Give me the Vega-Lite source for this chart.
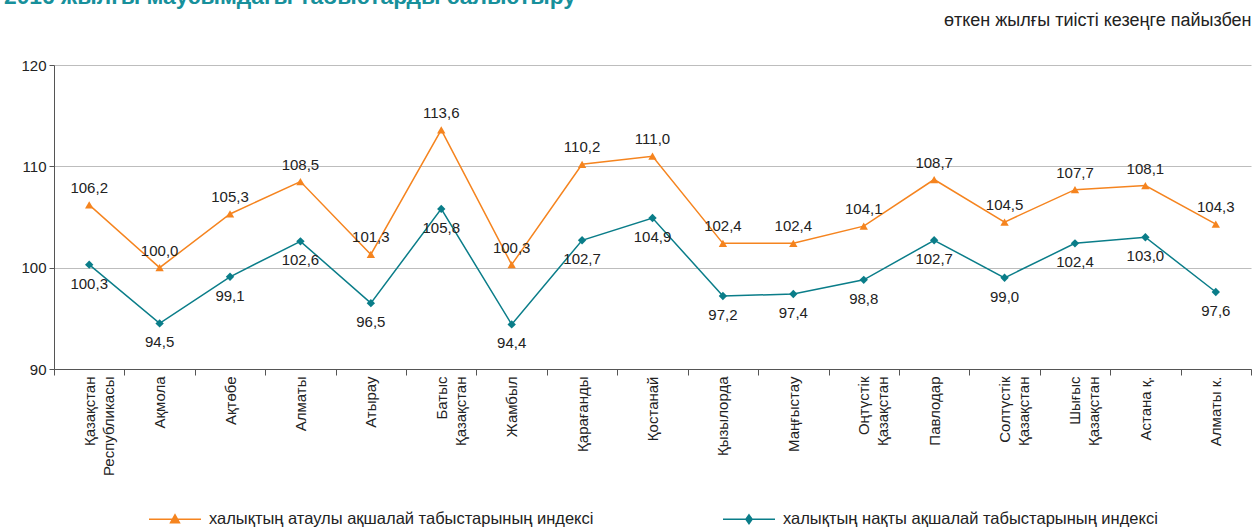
{
  "$schema": "https://vega.github.io/schema/vega-lite/v6.json",
  "autosize": "none",
  "width": 1197,
  "height": 304,
  "padding": {"left": 54, "top": 65, "right": 7, "bottom": 160},
  "title": {
    "text": "2016 жылғы маусымдағы табыстарды салыстыру",
    "anchor": "start",
    "frame": "bounds",
    "fontSize": 22.8,
    "fontWeight": "bold",
    "color": "#17909b",
    "dx": -17,
    "dy": 2
  },
  "config": {
    "font": "Liberation Sans",
    "view": {"stroke": null},
    "locale": {"number": {"decimal": ",", "thousands": " ", "grouping": [3], "currency": ["", ""]}}
  },
  "data": {
    "values": [
      {"region": "Қазақстан Республикасы", "series": "халықтың атаулы ақшалай табыстарының индексі", "value": 106.2},
      {"region": "Ақмола", "series": "халықтың атаулы ақшалай табыстарының индексі", "value": 100.0},
      {"region": "Ақтөбе", "series": "халықтың атаулы ақшалай табыстарының индексі", "value": 105.3},
      {"region": "Алматы", "series": "халықтың атаулы ақшалай табыстарының индексі", "value": 108.5},
      {"region": "Атырау", "series": "халықтың атаулы ақшалай табыстарының индексі", "value": 101.3},
      {"region": "Батыс Қазақстан", "series": "халықтың атаулы ақшалай табыстарының индексі", "value": 113.6},
      {"region": "Жамбыл", "series": "халықтың атаулы ақшалай табыстарының индексі", "value": 100.3},
      {"region": "Қарағанды", "series": "халықтың атаулы ақшалай табыстарының индексі", "value": 110.2},
      {"region": "Қостанай", "series": "халықтың атаулы ақшалай табыстарының индексі", "value": 111.0},
      {"region": "Қызылорда", "series": "халықтың атаулы ақшалай табыстарының индексі", "value": 102.4},
      {"region": "Маңғыстау", "series": "халықтың атаулы ақшалай табыстарының индексі", "value": 102.4},
      {"region": "Оңтүстік Қазақстан", "series": "халықтың атаулы ақшалай табыстарының индексі", "value": 104.1},
      {"region": "Павлодар", "series": "халықтың атаулы ақшалай табыстарының индексі", "value": 108.7},
      {"region": "Солтүстік Қазақстан", "series": "халықтың атаулы ақшалай табыстарының индексі", "value": 104.5},
      {"region": "Шығыс Қазақстан", "series": "халықтың атаулы ақшалай табыстарының индексі", "value": 107.7},
      {"region": "Астана қ.", "series": "халықтың атаулы ақшалай табыстарының индексі", "value": 108.1},
      {"region": "Алматы к.", "series": "халықтың атаулы ақшалай табыстарының индексі", "value": 104.3},
      {"region": "Қазақстан Республикасы", "series": "халықтың нақты ақшалай табыстарының индексі", "value": 100.3},
      {"region": "Ақмола", "series": "халықтың нақты ақшалай табыстарының индексі", "value": 94.5},
      {"region": "Ақтөбе", "series": "халықтың нақты ақшалай табыстарының индексі", "value": 99.1},
      {"region": "Алматы", "series": "халықтың нақты ақшалай табыстарының индексі", "value": 102.6},
      {"region": "Атырау", "series": "халықтың нақты ақшалай табыстарының индексі", "value": 96.5},
      {"region": "Батыс Қазақстан", "series": "халықтың нақты ақшалай табыстарының индексі", "value": 105.8},
      {"region": "Жамбыл", "series": "халықтың нақты ақшалай табыстарының индексі", "value": 94.4},
      {"region": "Қарағанды", "series": "халықтың нақты ақшалай табыстарының индексі", "value": 102.7},
      {"region": "Қостанай", "series": "халықтың нақты ақшалай табыстарының индексі", "value": 104.9},
      {"region": "Қызылорда", "series": "халықтың нақты ақшалай табыстарының индексі", "value": 97.2},
      {"region": "Маңғыстау", "series": "халықтың нақты ақшалай табыстарының индексі", "value": 97.4},
      {"region": "Оңтүстік Қазақстан", "series": "халықтың нақты ақшалай табыстарының индексі", "value": 98.8},
      {"region": "Павлодар", "series": "халықтың нақты ақшалай табыстарының индексі", "value": 102.7},
      {"region": "Солтүстік Қазақстан", "series": "халықтың нақты ақшалай табыстарының индексі", "value": 99.0},
      {"region": "Шығыс Қазақстан", "series": "халықтың нақты ақшалай табыстарының индексі", "value": 102.4},
      {"region": "Астана қ.", "series": "халықтың нақты ақшалай табыстарының индексі", "value": 103.0},
      {"region": "Алматы к.", "series": "халықтың нақты ақшалай табыстарының индексі", "value": 97.6}
    ]
  },
  "resolve": {"axis": {"x": "independent"}},
  "layer": [
    {
      "mark": {"type": "line", "strokeWidth": 1.5},
      "encoding": {
        "x": {
          "field": "region", "type": "nominal", "sort": null,
          "axis": {
            "title": null,
            "labelAngle": -90,
            "labelAlign": "right",
            "labelBaseline": "middle",
            "labelFontSize": 15,
            "labelColor": "#222222",
            "labelPadding": 1,
            "labelExpr": "indexof(['Астана қ.', 'Алматы к.'], datum.label) >= 0 ? datum.label : split(datum.label, ' ')",
            "labelLineHeight": 19,
            "tickBand": "extent",
            "tickSize": 6,
            "tickColor": "#555555",
            "domainColor": "#555555",
            "labelOverlap": false
          }
        },
        "y": {
          "field": "value", "type": "quantitative",
          "scale": {"domain": [90, 120], "nice": false, "zero": false},
          "axis": {
            "title": null,
            "values": [90, 100, 110, 120],
            "labelFontSize": 15,
            "labelColor": "#222222",
            "tickSize": 5,
            "tickColor": "#555555",
            "domainColor": "#555555",
            "gridColor": "#bdbdbd",
            "labelPadding": 3
          }
        },
        "color": {
          "field": "series", "type": "nominal",
          "scale": {
            "domain": ["халықтың атаулы ақшалай табыстарының индексі", "халықтың нақты ақшалай табыстарының индексі"],
            "range": ["#f5841f", "#0a7d89"]
          },
          "legend": {
            "title": null,
            "orient": "none",
            "legendX": 94,
            "legendY": 427,
            "direction": "horizontal",
            "labelFontSize": 16.5,
            "labelColor": "#222222",
            "labelOffset": 7,
            "labelLimit": 600,
            "columnPadding": 126,
            "symbolSize": 2704,
            "symbolStrokeWidth": 1.5,
            "encode": {
              "symbols": {
                "update": {
                  "shape": {"signal": "datum.value === 'халықтың атаулы ақшалай табыстарының индексі' ? 'M-1,0H1M-0.17,0.13L0,-0.17L0.17,0.13Z' : 'M-1,0H1M0,-0.17L0.12,0L0,0.17L-0.12,0Z'"},
                  "fill": {"signal": "scale('color', datum.value)"},
                  "stroke": {"signal": "scale('color', datum.value)"},
                  "opacity": {"value": 1}
                }
              }
            }
          }
        }
      }
    },
    {
      "transform": [{"filter": "datum.series === 'халықтың атаулы ақшалай табыстарының индексі'"}],
      "mark": {"type": "point", "filled": true, "opacity": 1, "size": 70, "shape": "triangle-up"},
      "encoding": {
        "x": {"field": "region", "type": "nominal", "sort": null, "axis": null},
        "y": {"field": "value", "type": "quantitative"},
        "color": {"field": "series", "type": "nominal"}
      }
    },
    {
      "transform": [{"filter": "datum.series === 'халықтың нақты ақшалай табыстарының индексі'"}],
      "mark": {"type": "point", "filled": true, "opacity": 1, "size": 70, "shape": "diamond"},
      "encoding": {
        "x": {"field": "region", "type": "nominal", "sort": null, "axis": null},
        "y": {"field": "value", "type": "quantitative"},
        "color": {"field": "series", "type": "nominal"}
      }
    },
    {
      "transform": [{"filter": "datum.series === 'халықтың атаулы ақшалай табыстарының индексі'"}],
      "mark": {"type": "text", "fontSize": 15, "color": "#222222", "dy": -17},
      "encoding": {
        "x": {
          "field": "region", "type": "nominal", "sort": null,
          "axis": {
            "orient": "top",
            "title": "өткен жылғы тиісті кезеңге пайызбен",
            "titleAnchor": "end",
            "titleFontSize": 18,
            "titleFontWeight": "normal",
            "titleColor": "#222222",
            "titlePadding": 36,
            "labels": false,
            "ticks": false,
            "domain": false,
            "grid": false
          }
        },
        "y": {"field": "value", "type": "quantitative"},
        "text": {"field": "value", "type": "quantitative", "format": ".1f"}
      }
    },
    {
      "transform": [{"filter": "datum.series === 'халықтың нақты ақшалай табыстарының индексі'"}],
      "mark": {"type": "text", "fontSize": 15, "color": "#222222", "dy": 19},
      "encoding": {
        "x": {"field": "region", "type": "nominal", "sort": null, "axis": null},
        "y": {"field": "value", "type": "quantitative"},
        "text": {"field": "value", "type": "quantitative", "format": ".1f"}
      }
    }
  ]
}
